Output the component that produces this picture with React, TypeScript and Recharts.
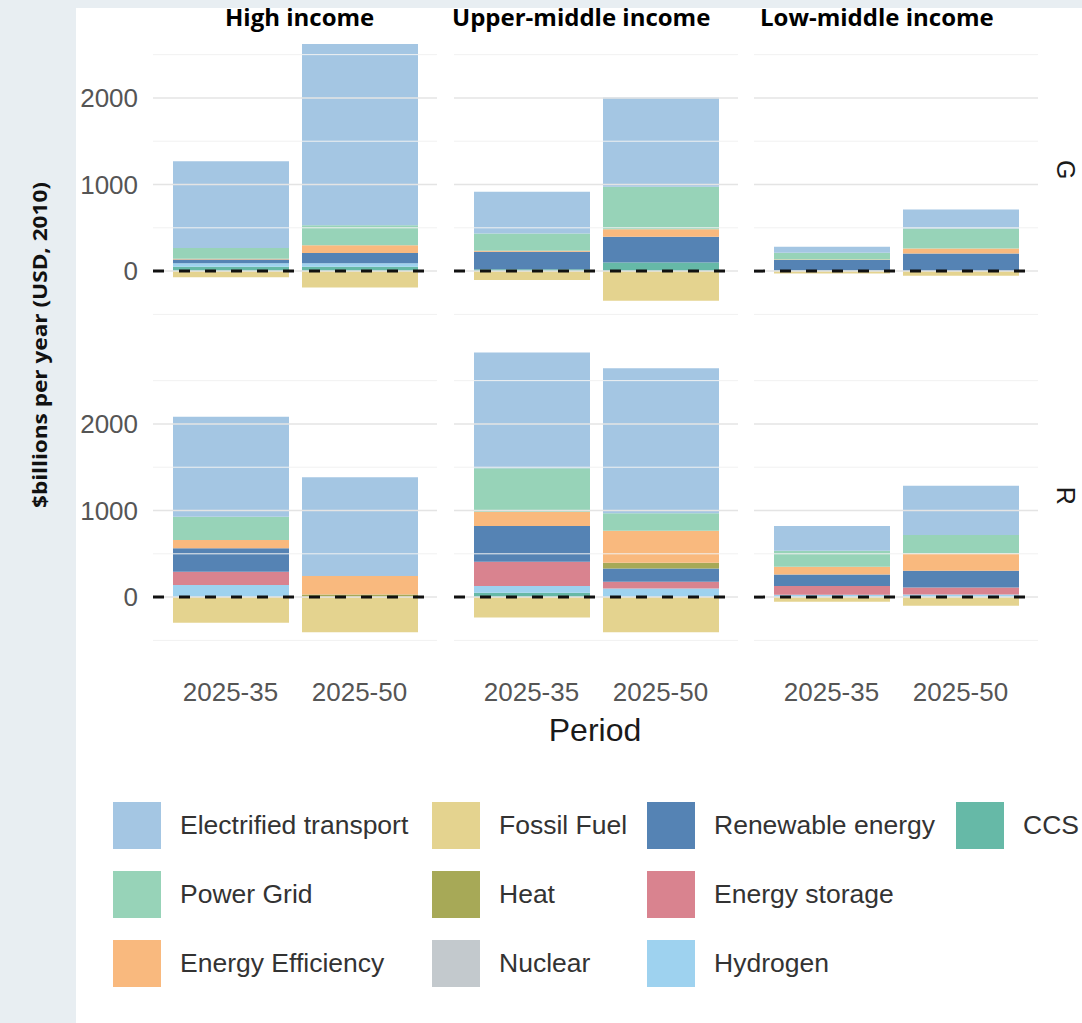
import React from "react";
import { Bar, BarChart, ReferenceLine, XAxis, YAxis } from "recharts";

// facets
const scenarios = ["G", "R"];
const incomeGroups = ["High income", "Upper-middle income", "Low-middle income"];
const periods = ["2025-35", "2025-50"];

// values in $bn/yr, order: G-High(35,50), G-Upper(35,50), G-Low(35,50), R-High(35,50), R-Upper(35,50), R-Low(35,50)
const transport = [1000, 2092, 482, 1029, 69, 220, 1156, 1140, 1337, 1676, 286, 570];
const powerGrid = [125, 232, 200, 493, 77, 230, 269, 0, 501, 201, 185, 212];
const efficiency = [8, 88, 12, 85, 8, 58, 96, 213, 165, 370, 88, 201];
const fossil = [-70, -190, -104, -343, -27, -55, -297, -405, -235, -405, -54, -100];
const heat = [0, 0, 0, 0, 0, 0, 0, 30, 0, 65, 0, 0];
const nuclear = [0, 0, 0, 0, 0, 0, 0, 0, 0, 0, 0, 0];
const renewable = [45, 120, 203, 297, 120, 204, 270, 0, 413, 154, 135, 192];
const storage = [0, 0, 0, 0, 0, 0, 154, 0, 281, 77, 100, 82];
const hydrogen = [40, 40, 0, 0, 0, 0, 139, 0, 77, 100, 27, 30];
const ccs = [50, 50, 20, 100, 7, 0, 0, 0, 50, 0, 0, 0];

const yTicks = [0, 1000, 2000];
const majorGrid = [0, 1000, 2000];
const minorGrid = [-500, 500, 1500, 2500];

// stacking order, bottom to top
const series = [
  { key: "CCS", values: ccs, color: "#66b9a7" },
  { key: "Hydrogen", values: hydrogen, color: "#9ed2ef" },
  { key: "Energy storage", values: storage, color: "#d9838f" },
  { key: "Renewable energy", values: renewable, color: "#5583b4" },
  { key: "Nuclear", values: nuclear, color: "#c3c9cd" },
  { key: "Heat", values: heat, color: "#a7a957" },
  { key: "Fossil Fuel", values: fossil, color: "#e4d38f" },
  { key: "Energy Efficiency", values: efficiency, color: "#f9b97e" },
  { key: "Power Grid", values: powerGrid, color: "#97d3b8" },
  { key: "Electrified transport", values: transport, color: "#a4c6e3" },
];

const legendColumns = [
  ["Electrified transport", "Power Grid", "Energy Efficiency"],
  ["Fossil Fuel", "Heat", "Nuclear"],
  ["Renewable energy", "Energy storage", "Hydrogen"],
  ["CCS"],
];

const colorOf = (k: string) => series.find((s) => s.key === k)!.color;

const colLeft = [152.6, 453.6, 753.6];
const rowTop = [19.9, 345.9];
const PLOT_W = 284;
const PLOT_H = 299.6;
const YAXIS_W = 76;
const XAXIS_H = 70;
const FONT = "'Liberation Sans', Arial, sans-serif";

function Panel({ r, c }: { r: number; c: number }) {
  const data = periods.map((period, j) => {
    const i = (r * 3 + c) * 2 + j;
    const row: any = { period };
    series.forEach((s) => (row[s.key] = s.values[i]));
    return row;
  });
  const showY = c === 0;
  const showX = r === 1;
  const left = colLeft[c] - (showY ? YAXIS_W : 0);
  const width = PLOT_W + (showY ? YAXIS_W : 0);
  const height = PLOT_H + (showX ? XAXIS_H : 0);
  return (
    <div style={{ position: "absolute", left, top: rowTop[r], width, height }}>
      <BarChart
        width={width}
        height={height}
        data={data}
        margin={{ top: 0, right: 0, bottom: 0, left: 0 }}
        stackOffset="sign"
        barSize={116}
      >
        <XAxis
          dataKey="period"
          hide={!showX}
          height={showX ? XAXIS_H : 0}
          padding={{ left: 13, right: 13 }}
          axisLine={false}
          tickLine={false}
          tickSize={0}
          tickMargin={37}
          interval={0}
          tick={{ fontSize: 26, fill: "#555", fontFamily: FONT }}
        />
        <YAxis
          type="number"
          domain={[-560, 2900]}
          ticks={yTicks}
          hide={!showY}
          width={YAXIS_W}
          axisLine={false}
          tickLine={false}
          tickSize={0}
          tickMargin={15}
          allowDataOverflow
          tick={{ fontSize: 26, fill: "#555", fontFamily: FONT }}
        />
        {minorGrid.map((v) => (
          <ReferenceLine key={"m" + v} y={v} stroke="#f1f1f1" strokeWidth={1} />
        ))}
        {majorGrid.map((v) => (
          <ReferenceLine key={"M" + v} y={v} stroke="#e4e4e4" strokeWidth={1.5} />
        ))}
        {series.map((s) => (
          <Bar key={s.key} dataKey={s.key} stackId="a" fill={s.color} isAnimationActive={false} />
        ))}
        <ReferenceLine y={0} stroke="#111" strokeWidth={3} strokeDasharray="11 15" />
      </BarChart>
    </div>
  );
}

const titleLeft = [225, 452, 760];

export default function App() {
  return (
    <div
      style={{
        position: "absolute",
        left: 0,
        top: 0,
        width: 1082,
        height: 1023,
        background: "#e8eef2",
        overflow: "hidden",
        fontFamily: FONT,
      }}
    >
      <div style={{ position: "absolute", left: 76, top: 8, right: 0, bottom: 0, background: "#fff" }} />

      {incomeGroups.map((g, c) => (
        <div
          key={g}
          style={{
            position: "absolute",
            left: titleLeft[c],
            top: 4.5,
            fontFamily: "'Open Sans', sans-serif",
            fontWeight: 700,
            fontSize: 24,
            lineHeight: "24px",
            whiteSpace: "nowrap",
            color: "#000",
          }}
        >
          {g}
        </div>
      ))}

      {scenarios.map((_, r) => incomeGroups.map((__, c) => <Panel key={r + "-" + c} r={r} c={c} />))}

      <svg style={{ position: "absolute", left: 0, top: 0 }} width={1082} height={1023}>
        <text
          transform="translate(47,345) rotate(-90)"
          textAnchor="middle"
          fontFamily="'Open Sans', sans-serif"
          fontWeight={700}
          fontSize={20}
          textLength={326}
          lengthAdjust="spacingAndGlyphs"
          fill="#111"
        >
          $billions per year (USD, 2010)
        </text>
        {scenarios.map((s, r) => (
          <text
            key={s}
            transform={`translate(1057,${rowTop[r] + PLOT_H / 2}) rotate(90)`}
            textAnchor="middle"
            fontFamily={FONT}
            fontSize={25}
            fill="#1a1a1a"
          >
            {s}
          </text>
        ))}
        <text x={595} y={741} textAnchor="middle" fontFamily={FONT} fontSize={32} fill="#1a1a1a">
          Period
        </text>
      </svg>

      {legendColumns.map((col, ci) =>
        col.map((name, ri) => (
          <div
            key={name}
            style={{
              position: "absolute",
              left: [113, 432, 647, 956][ci],
              top: [802, 871, 940][ri],
              height: 47,
              display: "flex",
              alignItems: "center",
              whiteSpace: "nowrap",
            }}
          >
            <div style={{ width: 48, height: 47, background: colorOf(name) }} />
            <span style={{ marginLeft: 19, fontSize: 26.5, color: "#333" }}>{name}</span>
          </div>
        ))
      )}
    </div>
  );
}
